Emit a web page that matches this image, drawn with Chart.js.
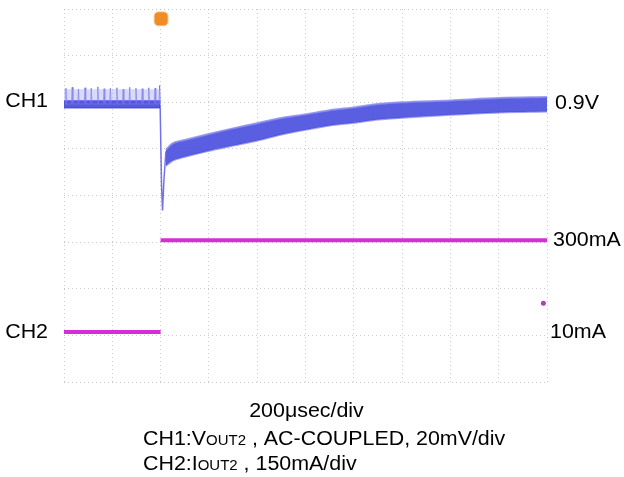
<!DOCTYPE html>
<html><head><meta charset="utf-8">
<script src="https://cdn.jsdelivr.net/npm/chart.js@4.4.1/dist/chart.umd.min.js"></script>
<style>html,body{margin:0;padding:0;background:#fff}#wrap{width:624px;height:477px;position:relative}</style>
</head><body><div id="wrap"><canvas id="c" width="624" height="477"></canvas></div>
<script>
// Time axis in µs (200 µs/div, trigger at 0); vertical axis in scope divisions
const xTicks = [-400,-200,0,200,400,600,800,1000,1200,1400,1600];
const yTicks = [-4,-3,-2,-1,0,1,2,3,4];

// CH1 before the load step: ripple band + spikes
const ch1PreTimes = [-400, -2];
const ch1PreTop = [2.03, 2.03];
const ch1PreBottom = [1.88, 1.88];
const ch1PreHaloTop = [2.28, 2.28];
const ch1SpikeTimes = [-392,-366,-340,-313,-287,-260,-234,-208,-181,-155,-128,-102,-76,-49,-23,-4];
const ch1SpikeTops = [2.30,2.32,2.28,2.31,2.30,2.33,2.29,2.30,2.31,2.28,2.32,2.30,2.29,2.31,2.30,2.36];

// CH1 step transient
const ch1StepTimes = [-2, 4, 8, 14, 22];
const ch1StepLevels = [1.95, 0.2, -0.32, 0.35, 0.95];

// CH1 recovery envelope after the step
const ch1PostTimes = [22,50,100,200,300,400,500,600,700,800,900,1000,1200,1400,1600];
const ch1PostUpper = [0.98,1.12,1.19,1.32,1.44,1.55,1.66,1.74,1.83,1.89,1.96,2.00,2.04,2.09,2.11];
const ch1PostLower = [0.64,0.75,0.83,0.96,1.07,1.18,1.31,1.41,1.50,1.56,1.63,1.67,1.73,1.78,1.80];

// CH2 load current
const ch2PreTimes = [-400, 0];
const ch2PreLevel = [-2.93, -2.93];
const ch2PostTimes = [0, 1600];
const ch2PostLevel = [-0.96, -0.96];
const ch2MarkerTime = [1585];
const ch2MarkerLevel = [-2.31];

// trigger marker
const trigTime = [2];
const trigLevel = [3.79];

// labels
const leftLabels = ['CH1','CH2'];
const leftLabelLevels = [2.01, -2.93];
const rightLabels = ['0.9V','300mA','10mA'];
const rightLabelLevels = [1.97, -0.96, -2.93];
const timebaseLabel = '200\u03BCsec/div';

const pts = (xs, ys) => xs.map((x,i) => ({x, y: ys[i]}));
const spikePts = [];
ch1SpikeTimes.forEach((t,i) => {
  spikePts.push({x:t-3, y:1.96});
  spikePts.push({x:t, y:ch1SpikeTops[i]});
  spikePts.push({x:t+3, y:1.96});
});

const FONT = '"Liberation Sans", Arial, sans-serif';
const SX = 1.07; // horizontal stretch of the reference text

const textPlugin = {
  id: 'scopeText',
  afterDraw(chart) {
    const ctx = chart.ctx, y = chart.scales.y, a = chart.chartArea;
    const put = (s, x, yy, align) => {
      ctx.save(); ctx.translate(x, yy); ctx.scale(SX, 1);
      ctx.textAlign = align; ctx.fillText(s, 0, 0); ctx.restore();
    };
    ctx.save();
    ctx.fillStyle = '#000';
    ctx.textBaseline = 'middle';
    ctx.font = '20px ' + FONT;
    leftLabels.forEach((s,i) => put(s, a.left - 16, y.getPixelForValue(leftLabelLevels[i]), 'right'));
    const rx = [a.right + 8, a.right + 6, a.right + 3];
    rightLabels.forEach((s,i) => put(s, rx[i], y.getPixelForValue(rightLabelLevels[i]), 'left'));

    ctx.textBaseline = 'alphabetic';
    put(timebaseLabel, (a.left + a.right)/2 + 1, 417, 'center');

    // lines with small "OUT2"
    const drawRuns = (runs, x0, yb) => {
      let x = x0;
      runs.forEach(([s, sz]) => {
        ctx.font = sz + 'px ' + FONT;
        put(s, x, yb, 'left');
        x += ctx.measureText(s).width * SX;
      });
    };
    drawRuns([['CH1:V',20],['OUT2',14],[' , AC-COUPLED, 20mV/div',20]], 143, 445);
    drawRuns([['CH2:I',20],['OUT2',14],[' , 150mA/div',20]], 143, 470);
    ctx.restore();
  }
};

const gridCommon = {color:'rgba(150,150,150,0.5)', lineWidth:1, drawTicks:false};

new Chart(document.getElementById('c'), {
  type: 'line',
  data: {
    datasets: [
      {data: pts(ch1PreTimes, ch1PreHaloTop), borderWidth:0, pointRadius:0, fill:'+1', backgroundColor:'rgba(170,170,245,0.45)'},
      {data: pts(ch1PreTimes, ch1PreTop), borderWidth:0, pointRadius:0, fill:false},
      {data: spikePts, borderColor:'rgba(110,110,235,0.85)', borderWidth:1, pointRadius:0, fill:false, tension:0},
      {data: pts(ch1PreTimes, ch1PreTop), borderColor:'rgba(80,80,225,0.9)', borderWidth:1.5, pointRadius:0, fill:'+1', backgroundColor:'rgba(60,60,215,0.85)'},
      {data: pts(ch1PreTimes, ch1PreBottom), borderColor:'rgba(80,80,225,0.9)', borderWidth:1.5, pointRadius:0, fill:false},
      {data: pts(ch1StepTimes, ch1StepLevels), borderColor:'rgba(100,100,230,0.9)', borderWidth:1.5, pointRadius:0, fill:false, tension:0},
      {data: pts(ch1PostTimes, ch1PostUpper), borderColor:'rgba(140,140,240,0.85)', borderWidth:2, pointRadius:0, fill:'+1', backgroundColor:'rgba(72,78,222,0.9)', tension:0.3},
      {data: pts(ch1PostTimes, ch1PostLower), borderColor:'rgba(140,140,240,0.85)', borderWidth:2, pointRadius:0, fill:false, tension:0.3},
      {data: pts(ch2PreTimes, ch2PreLevel), borderColor:'rgb(215,45,215)', borderWidth:4, pointRadius:0, fill:false},
      {data: pts(ch2PostTimes, ch2PostLevel), borderColor:'rgb(215,45,215)', borderWidth:4, pointRadius:0, fill:false},
      {data: pts(ch2MarkerTime, ch2MarkerLevel), showLine:false, pointRadius:2.5, pointBackgroundColor:'rgb(180,60,200)', pointBorderWidth:0},
      {data: pts(trigTime, trigLevel), showLine:false, pointStyle:'rectRounded', pointRadius:8, pointBackgroundColor:'rgb(240,140,40)', pointBorderColor:'rgb(250,190,120)', pointBorderWidth:1, clip:false}
    ]
  },
  options: {
    responsive:false, animation:false, maintainAspectRatio:false,
    layout:{padding:{left:64, right:77, top:8, bottom:95}},
    plugins:{legend:{display:false}, tooltip:{enabled:false}},
    elements:{line:{borderCapStyle:'butt'}},
    scales:{
      x:{type:'linear', min:-400, max:1600,
         afterBuildTicks: s => { s.ticks = xTicks.map(v => ({value:v})); },
         ticks:{display:false}, grid:gridCommon, border:{display:false, dash:[1,3]}},
      y:{type:'linear', min:-4, max:4,
         afterBuildTicks: s => { s.ticks = yTicks.map(v => ({value:v})); },
         ticks:{display:false}, grid:gridCommon, border:{display:false, dash:[1,3]}}
    }
  },
  plugins:[textPlugin]
});
</script></body></html>
